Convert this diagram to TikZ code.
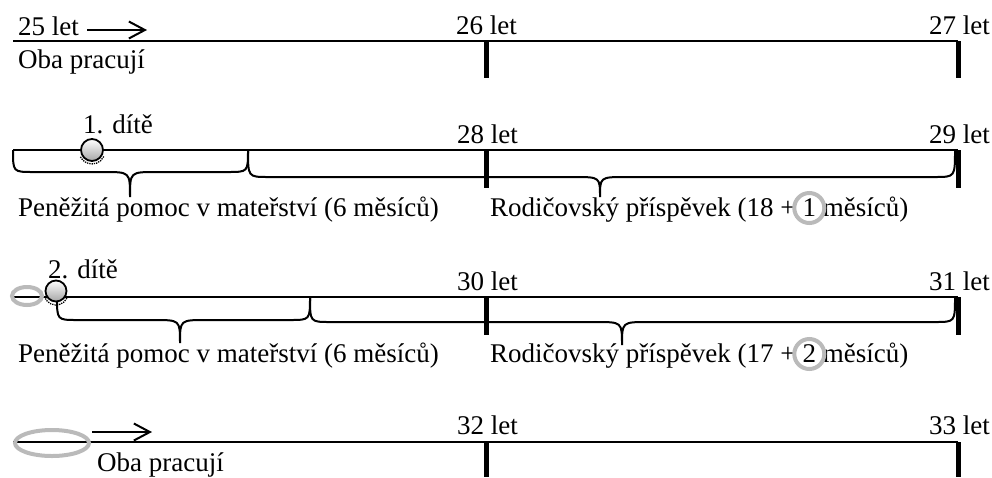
\documentclass[tikz,border=0pt]{standalone}
\usepackage{fontspec}
\setmainfont{Liberation Serif}
\usetikzlibrary{arrows.meta}
\newcommand\brc[6]{%
  \draw[brc] (#1,#4) .. controls (#1,#5) .. (#1+20,#5) -- (#3-26,#5)
    .. controls (#3,#5) .. (#3,#6) .. controls (#3,#5) .. (#3+26,#5)
    -- (#2-20,#5) .. controls (#2,#5) .. (#2,#4);}
\tikzset{
  txt/.style={inner sep=0pt, font=\fontsize{27}{31}\selectfont},
  axis/.style={line width=2pt},
  tick/.style={line width=5pt},
  brc/.style={line width=2pt},
  arr/.style={line width=2pt, -{Straight Barb[length=16pt,width=17pt,line width=2pt]}},
  ring/.style={draw=black!27, line width=4pt},
  ballstyle/.style={draw=black, line width=1.8pt, top color=white, bottom color=black!35},
  shadow/.style={densely dotted, line width=1.3pt}
}
\begin{document}
\begin{tikzpicture}[x=1pt,y=-1pt]
\useasboundingbox[fill=white] (0,0) rectangle (992,477);
% ---------- row 1
\draw[axis] (13,41) -- (958,41);
\draw[tick] (486,41) -- (486,78);
\draw[tick] (958,41) -- (958,78);
\node[txt, anchor=base west] (a25) at (18,35) {25 let};
\coordinate (ar1s) at (87,30);
\coordinate (ar1e) at (147,30);
\draw[arr] (ar1s) -- (ar1e);
\node[txt, anchor=base west] (a26) at (456,34) {26 let};
\node[txt, anchor=base east] (a27) at (990,34) {27 let};
\node[txt, anchor=base west] (w1) at (18,68) {Oba pracují};
% ---------- row 2
\draw[axis] (13,150) -- (958,150);
\draw[tick] (486,150) -- (486,188);
\draw[tick] (958,150) -- (958,188);
\brc{13}{248}{130}{150}{172}{197}
\brc{248}{955}{600}{150}{177}{197}
\draw[shadow] (92,151) ++(25:13) arc (25:155:13);
\node[ballstyle, circle, minimum size=22pt, inner sep=0pt] (b1) at (92,150) {};
\node[txt, anchor=base west] (d1) at (83,133) {1. dítě};
\node[txt, anchor=base west] (a28) at (457,143) {28 let};
\node[txt, anchor=base east] (a29) at (990,143) {29 let};
\node[txt, anchor=base west] (p1) at (18,216) {Peněžitá pomoc v mateřství (6 měsíců)};
\node[txt, anchor=base west] (r1a) at (490,216) {Rodičovský příspěvek (18 +};
\node[txt, anchor=base west] (r1n) at ([xshift=6.5pt]r1a.base east) {1};
\node[txt, anchor=base west] (r1b) at ([xshift=6.5pt]r1n.base east) {měsíců)};
\draw[ring] ([yshift=8pt]r1n.base) circle (15);
% ---------- row 3
\draw[axis] (13,297) -- (958,297);
\draw[tick] (486,297) -- (486,335);
\draw[tick] (958,297) -- (958,335);
\brc{57}{310}{180}{297}{320}{343}
\brc{310}{955}{622}{297}{322}{345}
\draw[ring] (27,296) ellipse (15 and 9);
\draw[shadow] (56,293) ++(25:12) arc (25:155:12);
\node[ballstyle, circle, minimum size=21pt, inner sep=0pt] (b2) at (56,291) {};
\node[txt, anchor=base west] (d2) at (48,278) {2. dítě};
\node[txt, anchor=base west] (a30) at (457,290) {30 let};
\node[txt, anchor=base east] (a31) at (990,290) {31 let};
\node[txt, anchor=base west] (p2) at (18,362) {Peněžitá pomoc v mateřství (6 měsíců)};
\node[txt, anchor=base west] (r2a) at (490,362) {Rodičovský příspěvek (17 +};
\node[txt, anchor=base west] (r2n) at ([xshift=6.5pt]r2a.base east) {2};
\node[txt, anchor=base west] (r2b) at ([xshift=6.5pt]r2n.base east) {měsíců)};
\draw[ring] ([yshift=8pt]r2n.base) circle (15);
% ---------- row 4
\draw[axis] (13,442) -- (958,442);
\draw[tick] (486,442) -- (486,477);
\draw[tick] (958,442) -- (958,477);
\draw[ring] (52,443) ellipse (37 and 13);
\coordinate (ar4s) at (92,432);
\coordinate (ar4e) at (152,432);
\draw[arr] (ar4s) -- (ar4e);
\node[txt, anchor=base west] (a32) at (457,434) {32 let};
\node[txt, anchor=base east] (a33) at (990,434) {33 let};
\node[txt, anchor=base west] (w2) at (97,471) {Oba pracují};
\end{tikzpicture}
\end{document}
